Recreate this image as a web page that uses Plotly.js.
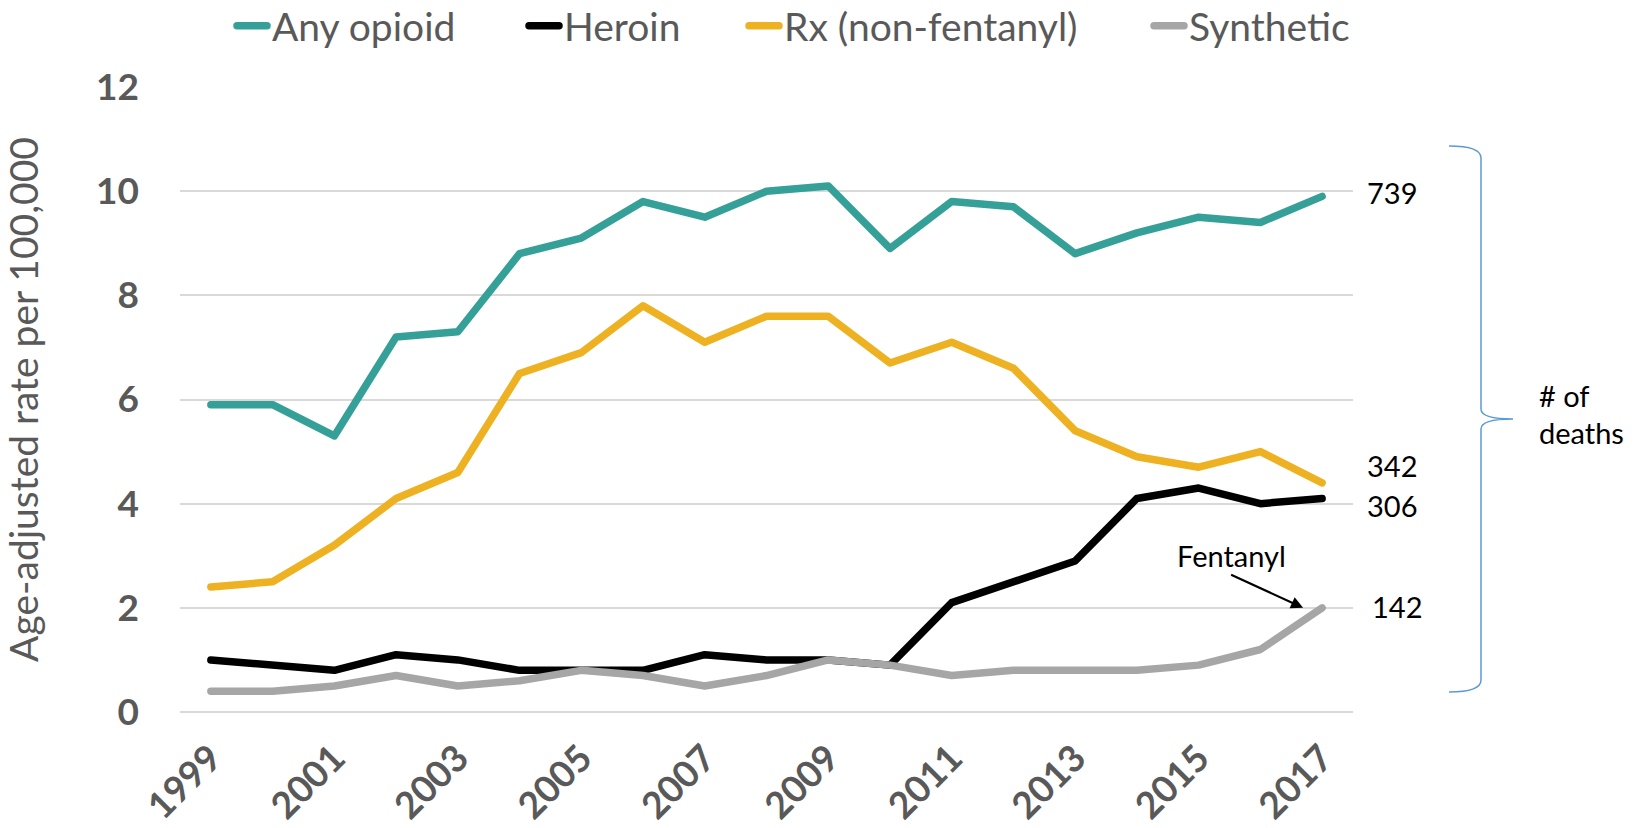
<!DOCTYPE html>
<html>
<head>
<meta charset="utf-8">
<script src="https://cdn.plot.ly/plotly-3.0.1.min.js"></script>
<style>
  html, body { margin: 0; padding: 0; background: #fff; }
  #chart { width: 1642px; height: 828px; }
  .js-line { stroke-linejoin: round; stroke-linecap: round; }
  .legendlines path { stroke-linecap: round; }
</style>
</head>
<body>
<div id="chart"></div>
<script>
// ---- data ----
const years = [1999, 2000, 2001, 2002, 2003, 2004, 2005, 2006, 2007, 2008,
               2009, 2010, 2011, 2012, 2013, 2014, 2015, 2016, 2017];
const anyOpioid = [5.9, 5.9, 5.3, 7.2, 7.3, 8.8, 9.1, 9.8, 9.5, 10.0,
                   10.1, 8.9, 9.8, 9.7, 8.8, 9.2, 9.5, 9.4, 9.9];
const heroin = [1.0, 0.9, 0.8, 1.1, 1.0, 0.8, 0.8, 0.8, 1.1, 1.0,
                1.0, 0.9, 2.1, 2.5, 2.9, 4.1, 4.3, 4.0, 4.1];
const rxNonFentanyl = [2.4, 2.5, 3.2, 4.1, 4.6, 6.5, 6.9, 7.8, 7.1, 7.6,
                       7.6, 6.7, 7.1, 6.6, 5.4, 4.9, 4.7, 5.0, 4.4];
const synthetic = [0.4, 0.4, 0.5, 0.7, 0.5, 0.6, 0.8, 0.7, 0.5, 0.7,
                   1.0, 0.9, 0.7, 0.8, 0.8, 0.8, 0.9, 1.2, 2.0];
const seriesNames = ['Any opioid', 'Heroin', 'Rx (non-fentanyl)', 'Synthetic'];
const deathCounts2017 = ['739', '306', '342', '142']; // any, heroin, rx, synthetic
const yTitle = 'Age-adjusted rate per 100,000';
const bracketLabel = ['# of', 'deaths'];
const arrowLabel = 'Fentanyl';

// ---- style ----
const colors = ['#35A097', '#000000', '#EEB122', '#A6A6A6'];
const FONT = 'Lato, "Liberation Sans", Arial, sans-serif';
const GREY = '#595959';

const W = 1642, H = 828;
const M = {l: 180, r: 289, t: 87, b: 116, autoexpand: false};
const PW = W - M.l - M.r, PH = H - M.t - M.b;
const px = x => (x - M.l) / PW;          // pixel -> paper x
const py = y => (H - M.b - y) / PH;      // pixel -> paper y

const legendIds = ['legend', 'legend2', 'legend3', 'legend4'];
const legendTextStart = [273, 565, 785, 1190];

const allSeries = [anyOpioid, heroin, rxNonFentanyl, synthetic];
const traces = allSeries.map((vals, i) => ({
  type: 'scatter', mode: 'lines', x: years, y: vals, name: seriesNames[i],
  legend: legendIds[i],
  line: {color: colors[i], width: 7.5}, hoverinfo: 'x+y+name'
}));

// Brace on the right
const bx0 = 1449, bx1 = 1481, bxt = 1513, byt = 146, bym = 419, byb = 692;
const bracePath =
  `M ${px(bx0)},${py(byt)} Q ${px(bx1)},${py(byt)} ${px(bx1)},${py(byt + 12)} ` +
  `L ${px(bx1)},${py(bym - 10)} Q ${px(bx1)},${py(bym)} ${px(bxt)},${py(bym)} ` +
  `Q ${px(bx1)},${py(bym)} ${px(bx1)},${py(bym + 10)} ` +
  `L ${px(bx1)},${py(byb - 12)} Q ${px(bx1)},${py(byb)} ${px(bx0)},${py(byb)}`;

const last = years.length - 1;
const labelShifts = [4, -7, 17, 1];
const annFont = {family: FONT, size: 29, color: '#000000'};
const annotations = allSeries.map((vals, i) => ({
  x: years[last], y: vals[last], xref: 'x', yref: 'y',
  text: deathCounts2017[i], showarrow: false,
  xanchor: 'left', yanchor: 'middle', xshift: i === 3 ? 48 : 43, yshift: labelShifts[i],
  font: annFont
}));
annotations.push(
  {xref: 'paper', yref: 'paper', x: px(1537), y: py(396), text: bracketLabel[0],
   showarrow: false, xanchor: 'left', yanchor: 'middle', font: annFont},
  {xref: 'paper', yref: 'paper', x: px(1537), y: py(432), text: bracketLabel[1],
   showarrow: false, xanchor: 'left', yanchor: 'middle', font: annFont},
  {x: years[last], y: synthetic[last], xref: 'x', yref: 'y', text: arrowLabel,
   showarrow: true, arrowhead: 2, arrowsize: 1.1, arrowwidth: 2.2, arrowcolor: '#000',
   ax: -72, ay: -33, xshift: -19, xanchor: 'center', yanchor: 'bottom', standoff: 0,
   font: annFont}
);

const layout = {
  width: W, height: H,
  margin: M,
  paper_bgcolor: '#ffffff', plot_bgcolor: '#ffffff',
  font: {family: FONT, color: GREY},
  showlegend: true,
  xaxis: {
    range: [years[0] - 0.5, years[last] + 0.5], tick0: years[0], dtick: 2,
    tickangle: -45, showgrid: false, zeroline: false, showline: false,
    ticks: '', ticklabelstandoff: 16,
    tickfont: {family: FONT, size: 37, color: GREY, weight: 'bold'}
  },
  yaxis: {
    range: [0, 12], dtick: 2, showgrid: true, gridcolor: '#D9D9D9', gridwidth: 2,
    zeroline: true, zerolinecolor: '#D9D9D9', zerolinewidth: 2, showline: false,
    ticks: '', ticklabelstandoff: 40,
    tickfont: {family: FONT, size: 37, color: GREY, weight: 'bold'},
    title: {text: yTitle, font: {family: FONT, size: 39, color: GREY}, standoff: 47}
  },
  shapes: [{type: 'path', xref: 'paper', yref: 'paper', path: bracePath,
            line: {color: '#5B9BD5', width: 1.5}}],
  annotations: annotations
};
legendIds.forEach((id, i) => {
  layout[id] = {
    orientation: 'h', x: px(legendTextStart[i] - 41), y: py(26),
    xanchor: 'left', yanchor: 'middle', bgcolor: 'rgba(0,0,0,0)',
    font: {family: FONT, size: 39, color: GREY}, itemwidth: 30
  };
});

Plotly.newPlot('chart', traces, layout, {displayModeBar: false, staticPlot: true});
</script>
</body>
</html>
